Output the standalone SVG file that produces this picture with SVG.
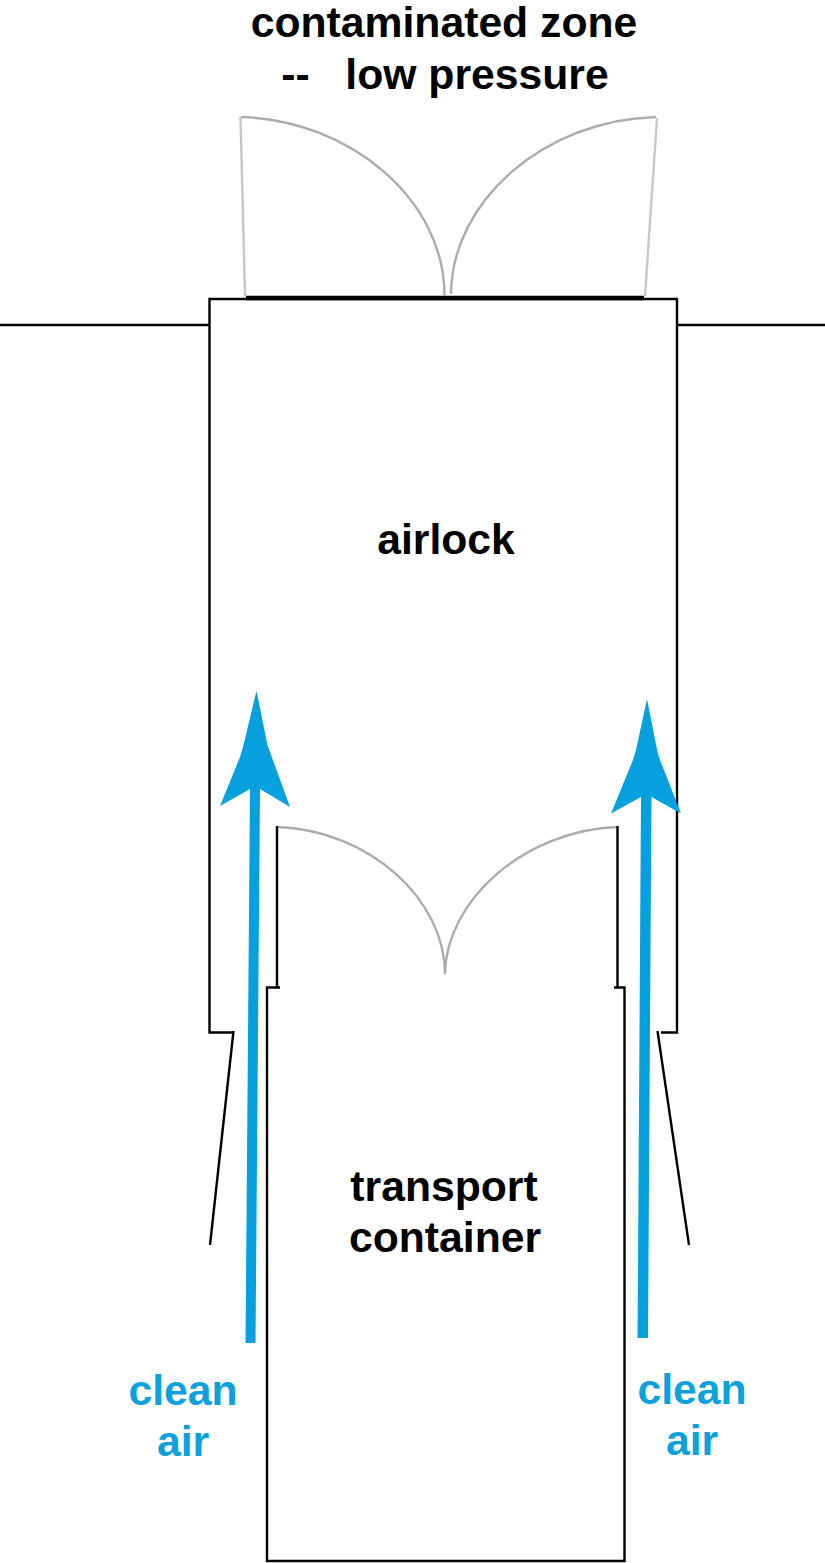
<svg xmlns="http://www.w3.org/2000/svg" width="825" height="1563" viewBox="0 0 825 1563">
<style>
text{font-family:"Liberation Sans",Arial,sans-serif;font-weight:700;font-size:42.700px;text-anchor:middle;white-space:pre}
.k{fill:#000}
.b{fill:#0ca0dc}
.w{fill:none;stroke:#000;stroke-width:2.400}
.g{fill:none;stroke:#acacac;stroke-width:2.400}
.g2{fill:none;stroke:#c8c8c8;stroke-width:2.400}
.a{fill:#05a0dd}
</style>
<rect width="825" height="1563" fill="#fff"/>
<g id="walls">
<path class="w" d="M0 325H209M678 325H825"/>
</g>
<g id="airlock">
<path class="w" d="M233 1032.500H209.500V299H677V1032.500H661"/>
<path class="w" d="M233.500 1031L210 1245M657.500 1031L689 1245"/>
<path d="M246 298H644" fill="none" stroke="#000" stroke-width="4.500"/>
<text class="k" x="446" y="554">airlock</text>
</g>
<g id="upper-doors">
<path class="g2" d="M240.500 117L245 296M657 118L645 296"/>
<path class="g" d="M241 117C350 120 445 200 444.500 296M451 294C452 200 545 120 656 117"/>
</g>
<g id="lower-doors">
<path class="g" d="M277 827C370 830 445 900 445 974C446 900 525 830 618 827"/>
</g>
<g id="transport-container">
<path class="w" d="M277 826V987M617.500 826V987"/>
<path class="w" d="M280 987.500H267V1561H624.500V987.500H614"/>
<text class="k" x="444" y="1201">transport</text>
<text class="k" x="445" y="1252">container</text>
</g>
<g id="connectors">
<path class="a" d="M256.500 691L267.500 745L270 752L290 807L260 789L255.500 1343H245.500L250 789L220 806L240 757L243 747Z"/>
<path class="a" d="M647 699L657.500 752L660 760L681 813.500L651.500 797L648 1338H637.500L641 797L611 813.500L633 760L636 750Z"/>
</g>
<g id="labels">
<text class="k" x="444" y="37">contaminated zone</text>
<text class="k" x="445" y="89">--   low pressure</text>
<text class="b" x="183" y="1405">clean</text>
<text class="b" x="183" y="1456">air</text>
<text class="b" x="692" y="1404">clean</text>
<text class="b" x="692" y="1455">air</text>
</g>
</svg>
